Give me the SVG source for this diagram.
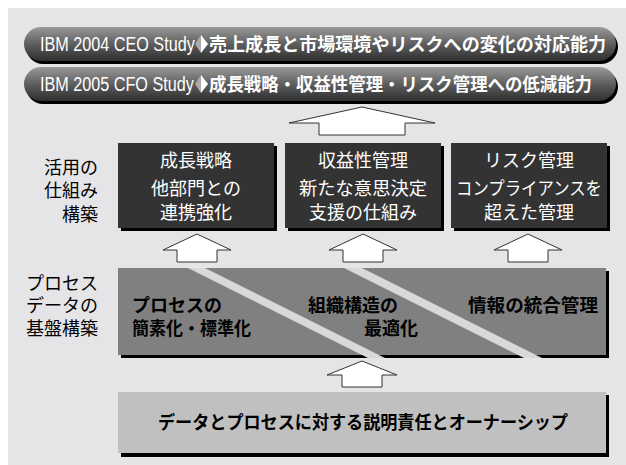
<svg xmlns="http://www.w3.org/2000/svg" width="626" height="465" viewBox="0 0 626 465">
<defs>
<linearGradient id="pillg" x1="0" y1="0" x2="0" y2="1">
<stop offset="0" stop-color="#9a9a9a"/>
<stop offset="0.5" stop-color="#5e5e5e"/>
<stop offset="1" stop-color="#2e2e2e"/>
</linearGradient>
<style>
.t{font-family:"Liberation Sans","Noto Sans CJK JP",sans-serif}
.w{fill:#ffffff}
.k{fill:#000000}
.b{font-weight:bold}
.lab{font-size:18px;fill:#000000;text-anchor:end}
.box{fill:#333333}
.sh{fill:#000000}
.arr{fill:#ffffff;stroke:#333333;stroke-width:1}
.bt{font-size:18px;fill:#ffffff;text-anchor:middle}
.bb{font-size:18px;font-weight:bold;fill:#000000}
</style>
</defs>
<rect x="8" y="8" width="618" height="457" fill="#e5e5e7"/>

<g id="pill1">
<rect x="26" y="30" width="592" height="34" rx="17" class="sh"/>
<rect x="24" y="27" width="592" height="34" rx="17" fill="url(#pillg)"/>
<text transform="translate(40,51) scale(0.81,1)" class="t w" font-size="20">IBM 2004 CEO Study</text>
<polygon points="201,35 195,44 201,53" fill="#aaaaaa"/>
<polygon points="201,35 208,44 201,53" fill="#ffffff"/>
<text x="209" y="51" class="t w b" font-size="18" textLength="397" lengthAdjust="spacingAndGlyphs">売上成長と市場環境やリスクへの変化の対応能力</text>
</g>
<g id="pill2">
<rect x="26" y="70" width="592" height="34" rx="17" class="sh"/>
<rect x="24" y="67" width="592" height="34" rx="17" fill="url(#pillg)"/>
<text transform="translate(40,91) scale(0.81,1)" class="t w" font-size="20">IBM 2005 CFO Study</text>
<polygon points="201,75 195,84 201,93" fill="#aaaaaa"/>
<polygon points="201,75 208,84 201,93" fill="#ffffff"/>
<text x="209" y="91" class="t w b" font-size="18" textLength="383" lengthAdjust="spacingAndGlyphs">成長戦略・収益性管理・リスク管理への低減能力</text>
</g>

<g id="label-top" class="t">
<text x="98" y="174" class="lab">活用の</text>
<text x="98" y="197" class="lab">仕組み</text>
<text x="98" y="221" class="lab">構築</text>
</g>
<g id="label-mid" class="t">
<text x="98" y="290" class="lab">プロセス</text>
<text x="98" y="312" class="lab">データの</text>
<text x="98" y="335" class="lab">基盤構築</text>
</g>

<g id="box-growth" class="t">
<rect x="121" y="146" width="156" height="85" class="sh"/>
<rect x="118" y="143" width="156" height="85" class="box"/>
<text x="196" y="167" class="bt">成長戦略</text>
<text x="196" y="195" class="bt">他部門との</text>
<text x="196" y="219" class="bt">連携強化</text>
</g>
<g id="box-profit" class="t">
<rect x="288" y="146" width="156" height="85" class="sh"/>
<rect x="285" y="143" width="156" height="85" class="box"/>
<text x="363" y="167" class="bt">収益性管理</text>
<text x="363" y="195" class="bt" textLength="128" lengthAdjust="spacingAndGlyphs">新たな意思決定</text>
<text x="363" y="219" class="bt">支援の仕組み</text>
</g>
<g id="box-risk" class="t">
<rect x="454" y="146" width="156" height="85" class="sh"/>
<rect x="451" y="143" width="156" height="85" class="box"/>
<text x="529" y="167" class="bt">リスク管理</text>
<text x="529" y="195" class="bt" textLength="146" lengthAdjust="spacingAndGlyphs">コンプライアンスを</text>
<text x="529" y="219" class="bt">超えた管理</text>
</g>

<g id="band" class="t">
<rect x="121" y="271" width="488" height="87" class="sh"/>
<rect x="118" y="268" width="488" height="87" fill="#808080"/>
<polygon points="188,268 205,268 385,358 368,358" fill="#d9d9db"/>
<polygon points="344,268 362,268 542,358 524,358" fill="#d9d9db"/>
<text x="132" y="312" class="bb">プロセスの</text>
<text x="132" y="335" class="bb" textLength="119" lengthAdjust="spacingAndGlyphs">簡素化・標準化</text>
<text x="308" y="312" class="bb">組織構造の</text>
<text x="364" y="335" class="bb">最適化</text>
<text x="468" y="312" class="bb" textLength="130" lengthAdjust="spacingAndGlyphs">情報の統合管理</text>
</g>

<g id="box-base" class="t">
<rect x="121" y="395" width="488" height="62" class="sh"/>
<rect x="118" y="392" width="488" height="61" fill="#c0c0c0"/>
<text x="158" y="429" class="bb" textLength="410" lengthAdjust="spacingAndGlyphs">データとプロセスに対する説明責任とオーナーシップ</text>
</g>

<g id="connectors">
<polygon class="arr" points="362,107 435,123 405,123 405,135 319,135 319,123 289,123"/>
<polygon class="arr" points="197,234 231,250 217,250 217,262 177,262 177,250 163,250"/>
<polygon class="arr" points="363,234 397,250 383,250 383,262 343,262 343,250 329,250"/>
<polygon class="arr" points="528,234 562,250 548,250 548,262 508,262 508,250 494,250"/>
<polygon class="arr" points="362,361 397,375 382,375 382,387 342,387 342,375 327,375"/>
</g>
</svg>
